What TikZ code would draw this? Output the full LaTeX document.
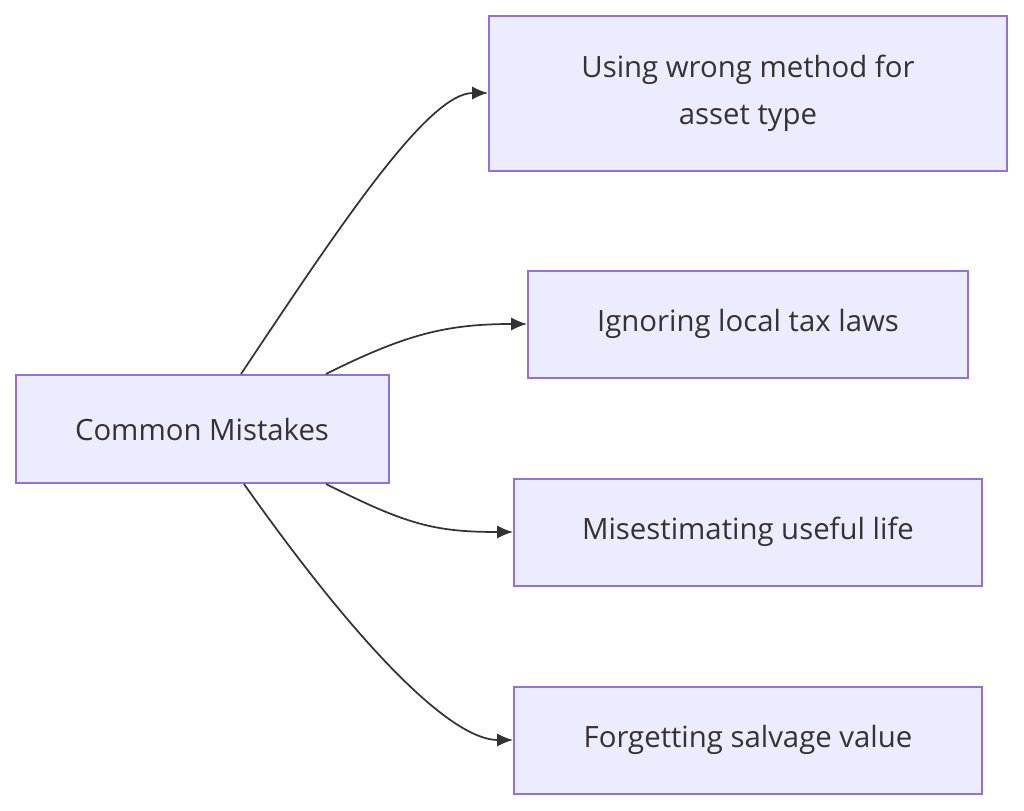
\documentclass[tikz,border=0pt]{standalone}
\usepackage{fontspec}
\setmainfont{Open Sans}
\usetikzlibrary{positioning, arrows.meta}
\definecolor{boxfill}{HTML}{ECECFF}
\definecolor{boxline}{HTML}{9370DB}
\definecolor{ink}{HTML}{333333}
\tikzset{
  mistake/.style={rectangle, draw=boxline, fill=boxfill, line width=1.5pt, text=ink, font=\fontsize{22}{35}\selectfont, align=center, inner sep=0pt},
  link/.style={draw=ink, line width=1.3pt, -{Latex[length=12pt,width=10pt]}}
}
\begin{document}
\begin{tikzpicture}[x=0.75pt, y=-0.75pt]
        \useasboundingbox (0,0) rectangle (1024,810);
        \node[mistake, minimum width=373*0.75pt, minimum height=108*0.75pt] (common) at (202,429) {Common Mistakes};
        \node[mistake, minimum width=518*0.75pt, minimum height=155*0.75pt] (method) at (748,93) {Using wrong method for\\asset type};
        \node[mistake, minimum width=440*0.75pt, minimum height=107*0.75pt] (tax) at (748,324) {Ignoring local tax laws};
        \node[mistake, minimum width=468*0.75pt, minimum height=107*0.75pt] (life) at (748,532) {Misestimating useful life};
        \node[mistake, minimum width=468*0.75pt, minimum height=107*0.75pt] (salvage) at (748,740) {Forgetting salvage value};

        \draw[link] ([xshift=39*0.75pt]common.north) .. controls +(100,-150) and +(-60,0) .. (method.west);
        \draw[link] ([xshift=124*0.75pt]common.north) .. controls +(80,-40) and +(-80,0) .. (tax.west);
        \draw[link] ([xshift=124*0.75pt]common.south) .. controls +(80,40) and +(-80,0) .. (life.west);
        \draw[link] ([xshift=42*0.75pt]common.south) .. controls +(120,170) and +(-60,0) .. (salvage.west);
    \end{tikzpicture}
\end{document}
